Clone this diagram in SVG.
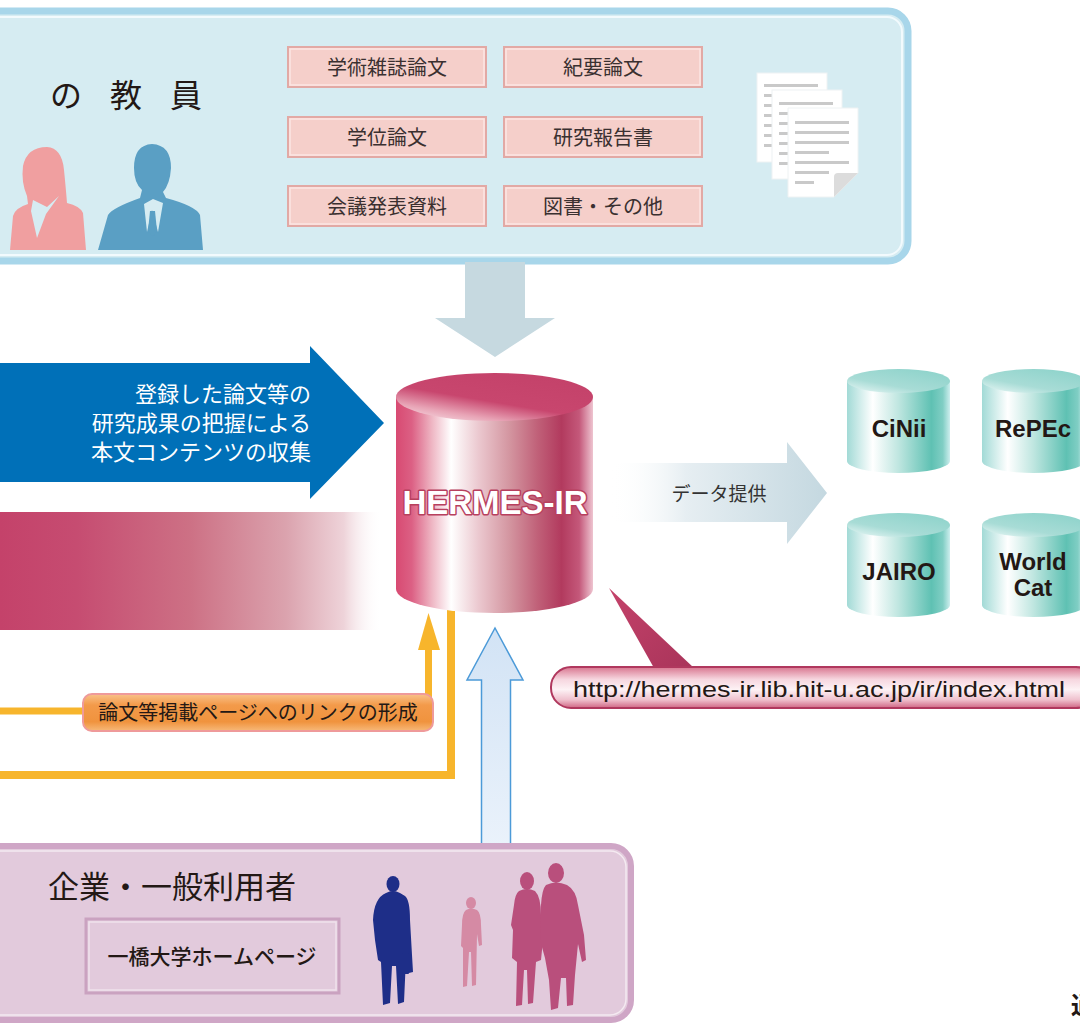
<svg xmlns="http://www.w3.org/2000/svg" width="1080" height="1023" viewBox="0 0 1080 1023">
  <defs>
    <style>
      .jp { font-family: "Noto Sans CJK JP", "Noto Sans", sans-serif; fill: #231815; }
      .doc-box rect.bg { fill: #f5cfca; stroke: #e2a9a5; stroke-width: 2; }
      .doc-box rect.hl { fill: none; stroke: #fbe6e3; stroke-width: 1.5; }
      .doc-box text { font-size: 20px; text-anchor: middle; fill: #3a3030; }
      .page { fill: #ffffff; stroke: #eef2f3; stroke-width: 1; }
      .pline { fill: #c9c9c9; }
      .dbname { font-family: "Liberation Sans", Arial, sans-serif; font-weight: bold; font-size: 24px; text-anchor: middle; fill: #231815; }
    </style>
    <linearGradient id="hermesBody" x1="0" y1="0" x2="1" y2="0">
      <stop offset="0" stop-color="#d84a72"/>
      <stop offset="0.08" stop-color="#dc6084"/>
      <stop offset="0.18" stop-color="#eeb4c2"/>
      <stop offset="0.28" stop-color="#ffffff"/>
      <stop offset="0.42" stop-color="#ebc8cf"/>
      <stop offset="0.58" stop-color="#d3949f"/>
      <stop offset="0.72" stop-color="#c06078"/>
      <stop offset="0.84" stop-color="#b23a5e"/>
      <stop offset="0.93" stop-color="#c4587a"/>
      <stop offset="1" stop-color="#eec4d0"/>
    </linearGradient>
    <linearGradient id="hermesTop" x1="0" y1="1" x2="0.7" y2="0">
      <stop offset="0" stop-color="#fbeef1"/>
      <stop offset="0.25" stop-color="#e8a4b6"/>
      <stop offset="0.5" stop-color="#c8466e"/>
      <stop offset="1" stop-color="#c4426a"/>
    </linearGradient>
    <linearGradient id="tealBody" x1="0" y1="0" x2="1" y2="0">
      <stop offset="0" stop-color="#a2dad6"/>
      <stop offset="0.25" stop-color="#ffffff"/>
      <stop offset="0.5" stop-color="#bfe6e0"/>
      <stop offset="0.82" stop-color="#5fc1b3"/>
      <stop offset="0.93" stop-color="#80cec4"/>
      <stop offset="1" stop-color="#cdeeee"/>
    </linearGradient>
    <linearGradient id="tealTop" x1="0" y1="1" x2="0.8" y2="0">
      <stop offset="0" stop-color="#eef9f8"/>
      <stop offset="0.4" stop-color="#a8dcd6"/>
      <stop offset="1" stop-color="#8ed3cb"/>
    </linearGradient>
    <linearGradient id="pinkBand" x1="0" y1="0" x2="1" y2="0">
      <stop offset="0" stop-color="#c4426a"/>
      <stop offset="0.2" stop-color="#c64c71"/>
      <stop offset="0.5" stop-color="#cd7185"/>
      <stop offset="0.75" stop-color="#dba3ae"/>
      <stop offset="0.9" stop-color="#eed3d9"/>
      <stop offset="1" stop-color="#ffffff" stop-opacity="0"/>
    </linearGradient>
    <linearGradient id="dataArrow" x1="0" y1="0" x2="1" y2="0">
      <stop offset="0" stop-color="#ffffff" stop-opacity="0"/>
      <stop offset="0.35" stop-color="#e6eef2"/>
      <stop offset="1" stop-color="#c4d8e0"/>
    </linearGradient>
    <linearGradient id="upArrow" x1="0" y1="0" x2="0" y2="1">
      <stop offset="0" stop-color="#d2e3f5"/>
      <stop offset="1" stop-color="#eaf2fb"/>
    </linearGradient>
    <linearGradient id="orangeLabel" x1="0" y1="0" x2="0" y2="1">
      <stop offset="0" stop-color="#f9c28a"/>
      <stop offset="0.3" stop-color="#f39a4a"/>
      <stop offset="0.75" stop-color="#f0933e"/>
      <stop offset="1" stop-color="#f7b979"/>
    </linearGradient>
    <linearGradient id="pill" x1="0" y1="0" x2="0" y2="1">
      <stop offset="0" stop-color="#d8758f"/>
      <stop offset="0.3" stop-color="#f6d6df"/>
      <stop offset="0.55" stop-color="#fdf2f5"/>
      <stop offset="0.8" stop-color="#efc0cd"/>
      <stop offset="1" stop-color="#cf6684"/>
    </linearGradient>
    <linearGradient id="pointer" x1="0" y1="0" x2="1" y2="1">
      <stop offset="0" stop-color="#c4426a"/>
      <stop offset="1" stop-color="#a9345a"/>
    </linearGradient>
  </defs>

  <rect width="1080" height="1023" fill="#ffffff"/>

  <!-- faculty panel -->
  <g id="faculty">
    <rect x="-20" y="11" width="928" height="250" rx="20" fill="#d6ecf2" stroke="#a8d6ea" stroke-width="7"/>
    <rect x="-16" y="17" width="918" height="238" rx="15" fill="none" stroke="#f2fafd" stroke-width="2"/>
    <text class="jp" x="50" y="107" font-size="32">の</text>
    <text class="jp" x="110" y="107" font-size="32">教</text>
    <text class="jp" x="170" y="107" font-size="32">員</text>
    <!-- woman -->
    <path d="M10 250 L13 216 Q15 208 28 204 L27 196 Q21 182 23 166 Q27 147 47 147 Q62 148 64 170 Q66 190 67 203 Q80 206 83 213 L86 250 Z" fill="#f09fa0"/>
    <path d="M33 200 L31 211 L37 238 L46 214 L59 196 L47 207 Z" fill="#d6ecf2"/>
    <!-- man -->
    <path d="M98 250 L108 215 Q112 208 140 198 L142 190 Q134 183 134 168 Q134 145 152 144 Q171 145 171 168 Q170 184 163 192 L166 198 Q196 206 200 215 L203 250 Z" fill="#5a9fc4"/>
    <path d="M144 204 L147 232 L152 210 L158 232 L163 203 L153 199 Z" fill="#d6ecf2"/>
    <path d="M150 211 L148 231 L153 237 L157 231 L155 211 Z" fill="#5a9fc4"/>
  </g>

  <g id="doc-types">
    <g class="doc-box" id="doc-journal"><rect class="bg" x="288" y="47" width="198" height="40"/><rect class="hl" x="290" y="49" width="194" height="36"/><text class="jp" x="387" y="75">学術雑誌論文</text></g>
    <g class="doc-box" id="doc-bulletin"><rect class="bg" x="504" y="47" width="198" height="40"/><rect class="hl" x="506" y="49" width="194" height="36"/><text class="jp" x="603" y="75">紀要論文</text></g>
    <g class="doc-box" id="doc-thesis"><rect class="bg" x="288" y="117" width="198" height="40"/><rect class="hl" x="290" y="119" width="194" height="36"/><text class="jp" x="387" y="145">学位論文</text></g>
    <g class="doc-box" id="doc-report"><rect class="bg" x="504" y="117" width="198" height="40"/><rect class="hl" x="506" y="119" width="194" height="36"/><text class="jp" x="603" y="145">研究報告書</text></g>
    <g class="doc-box" id="doc-conference"><rect class="bg" x="288" y="186" width="198" height="40"/><rect class="hl" x="290" y="188" width="194" height="36"/><text class="jp" x="387" y="214">会議発表資料</text></g>
    <g class="doc-box" id="doc-books"><rect class="bg" x="504" y="186" width="198" height="40"/><rect class="hl" x="506" y="188" width="194" height="36"/><text class="jp" x="603" y="214">図書・その他</text></g>
  </g>

  <!-- stacked document icon -->
  <g id="doc-icon">
    <rect class="page" x="757" y="73" width="70" height="89"/>
    <rect class="pline" x="764" y="84" width="54" height="3"/>
    <rect class="pline" x="764" y="94" width="10" height="3"/>
    <rect class="pline" x="764" y="104" width="10" height="3"/>
    <rect class="pline" x="764" y="114" width="10" height="3"/>
    <rect class="pline" x="764" y="124" width="10" height="3"/>
    <rect class="pline" x="764" y="134" width="10" height="3"/>
    <rect class="pline" x="764" y="144" width="10" height="3"/>
    <rect class="page" x="772" y="90" width="70" height="89"/>
    <rect class="pline" x="779" y="102" width="54" height="3"/>
    <rect class="pline" x="779" y="112" width="10" height="3"/>
    <rect class="pline" x="779" y="122" width="10" height="3"/>
    <rect class="pline" x="779" y="132" width="10" height="3"/>
    <rect class="pline" x="779" y="142" width="10" height="3"/>
    <rect class="pline" x="779" y="152" width="10" height="3"/>
    <rect class="pline" x="779" y="162" width="10" height="3"/>
    <path class="page" d="M788 108 H858 V173 L834 197 H788 Z"/>
    <path d="M858 173 L834 197 L834 177 Q834 173 838 173 Z" fill="#dcdcdc"/>
    <rect class="pline" x="795" y="121" width="54" height="3"/>
    <rect class="pline" x="795" y="131" width="54" height="3"/>
    <rect class="pline" x="795" y="141" width="54" height="3"/>
    <rect class="pline" x="795" y="151" width="34" height="3"/>
    <rect class="pline" x="795" y="161" width="54" height="3"/>
    <rect class="pline" x="795" y="171" width="34" height="3"/>
    <rect class="pline" x="795" y="181" width="19" height="3"/>
  </g>

  <!-- connectors -->
  <g id="connectors">
    <path id="deposit-arrow" d="M465 262 H525 V318 H555 L495 357 L435 318 H465 Z" fill="#c6d9e0"/>
    <path id="harvest-arrow" d="M-10 363 H310 V346 L384 423 L310 499 V482 H-10 Z" fill="#0070b8"/>
    <rect id="publish-band" x="0" y="512" width="382" height="118" fill="url(#pinkBand)"/>
    <!-- link paths -->
    <path d="M-10 711 H90" fill="none" stroke="#f7b52c" stroke-width="7"/>
    <path d="M428.5 700 V648" fill="none" stroke="#f7b52c" stroke-width="7"/>
    <path d="M418 650 L428.5 613 L440 650 Z" fill="#f7b52c"/>
    <path d="M-10 775 H451 V605" fill="none" stroke="#f7b52c" stroke-width="8"/>
    <path id="access-arrow" d="M495 628 L523 680 L510.5 680 L510.5 846 L481.5 846 L481.5 680 L467 680 Z" fill="url(#upArrow)" stroke="#4c9ad8" stroke-width="1.5"/>
    <path id="data-arrow" d="M610 463 H787 V442 L827 493 L787 544 V522 H610 Z" fill="url(#dataArrow)"/>
    <path id="url-pointer" d="M609 588 L654 668 L694 668 Z" fill="url(#pointer)"/>
  </g>

  <g id="harvest-label">
    <text class="jp" x="311" y="402" font-size="22" text-anchor="end" style="fill:#ffffff">登録した論文等の</text>
    <text class="jp" x="311" y="431" font-size="22" text-anchor="end" style="fill:#ffffff">研究成果の把握による</text>
    <text class="jp" x="311" y="460" font-size="22" text-anchor="end" style="fill:#ffffff">本文コンテンツの収集</text>
  </g>

  <g id="data-label">
    <text class="jp" x="719" y="501" font-size="19" text-anchor="middle" style="fill:#333">データ提供</text>
  </g>

  <g id="link-label">
    <rect x="83" y="694" width="350" height="37" rx="9" fill="url(#orangeLabel)" stroke="#ef9a9a" stroke-width="2"/>
    <text class="jp" x="258" y="720" font-size="20" text-anchor="middle">論文等掲載ページへのリンクの形成</text>
  </g>

  <!-- repository -->
  <g id="hermes-ir">
    <path d="M396 397 V589 A98.5 24 0 0 0 593 589 V397 Z" fill="url(#hermesBody)"/>
    <ellipse cx="494.5" cy="397" rx="98.5" ry="24" fill="url(#hermesTop)"/>
    <text x="495" y="514" font-family="'Liberation Sans', Arial, sans-serif" font-weight="bold" font-size="33" text-anchor="middle" fill="#ffffff" stroke="#b8405e" stroke-width="3" paint-order="stroke" stroke-linejoin="round">HERMES-IR</text>
  </g>

  <!-- external services -->
  <g id="cinii">
    <path d="M847 381 V461 A51.5 12 0 0 0 950 461 V381 Z" fill="url(#tealBody)"/>
    <ellipse cx="898.5" cy="381" rx="51.5" ry="12" fill="url(#tealTop)"/>
    <text class="dbname" x="899" y="437">CiNii</text>
  </g>
  <g id="repec">
    <path d="M982 381 V461 A51.5 12 0 0 0 1085 461 V381 Z" fill="url(#tealBody)"/>
    <ellipse cx="1033.5" cy="381" rx="51.5" ry="12" fill="url(#tealTop)"/>
    <text class="dbname" x="1033" y="437">RePEc</text>
  </g>
  <g id="jairo">
    <path d="M847 525 V605 A51.5 12 0 0 0 950 605 V525 Z" fill="url(#tealBody)"/>
    <ellipse cx="898.5" cy="525" rx="51.5" ry="12" fill="url(#tealTop)"/>
    <text class="dbname" x="899" y="580">JAIRO</text>
  </g>
  <g id="worldcat">
    <path d="M982 525 V605 A51.5 12 0 0 0 1085 605 V525 Z" fill="url(#tealBody)"/>
    <ellipse cx="1033.5" cy="525" rx="51.5" ry="12" fill="url(#tealTop)"/>
    <text class="dbname" x="1033" y="570">World</text>
    <text class="dbname" x="1033" y="596">Cat</text>
  </g>

  <g id="url-callout">
    <rect x="551" y="667" width="545" height="41" rx="20" fill="url(#pill)" stroke="#b0385e" stroke-width="2"/>
    <text x="573" y="697" font-family="'Liberation Sans', Arial, sans-serif" font-size="22" fill="#231815" textLength="492" lengthAdjust="spacingAndGlyphs">http://hermes-ir.lib.hit-u.ac.jp/ir/index.html</text>
  </g>

  <!-- public users panel -->
  <g id="public-users">
    <rect x="-20" y="846" width="651" height="174" rx="20" fill="#e2cadc" stroke="#cfa6c6" stroke-width="6"/>
    <rect x="-16" y="851" width="642" height="164" rx="16" fill="none" stroke="#f4eaf1" stroke-width="1.5"/>
    <text class="jp" x="48" y="898" font-size="31">企業・一般利用者</text>
    <g id="homepage">
      <rect x="86" y="919" width="253" height="74" fill="#e2cadc" stroke="#caa2c0" stroke-width="3"/>
      <rect x="89" y="922" width="247" height="68" fill="none" stroke="#efe2ec" stroke-width="1.5"/>
      <text class="jp" x="212" y="964" font-size="21" text-anchor="middle" font-weight="500">一橋大学ホームページ</text>
    </g>
    <!-- walking figures -->
    <ellipse cx="393" cy="884" rx="6.5" ry="8" fill="#1e2e88"/>
    <path d="M386 893 Q393 889 400 893 L405 896 Q410 900 410 920 L412 955 L413 972 L409 973 L406 958 L404 1002 L398 1004 L396 966 L392 966 L390 1003 L383 1005 L381 962 L378 960 L375 940 L373 920 Q374 898 386 893 Z" fill="#1e2e88"/>
    <rect x="402" y="953" width="7" height="21" rx="1" fill="#1e2e88"/>
    <ellipse cx="471" cy="903" rx="5" ry="6" fill="#d58aa4"/>
    <path d="M466 910 Q471 907 477 910 Q481 913 481 925 L482 945 L479 946 L477 934 L476 985 L472 986 L471 952 L469 952 L467 986 L463 987 L463 948 L461 946 L462 925 Q462 913 466 910 Z" fill="#d58aa4"/>
    <ellipse cx="527" cy="881" rx="7" ry="9" fill="#b94f7c"/>
    <path d="M519 891 Q527 887 535 891 Q541 897 541 915 L543 940 L541 960 L536 962 L533 1003 L528 1004 L527 970 L524 970 L522 1005 L516 1006 L517 962 L512 958 L513 930 L511 925 L514 905 Q515 894 519 891 Z" fill="#b94f7c"/>
    <ellipse cx="556" cy="873" rx="8" ry="10" fill="#b94f7c"/>
    <path d="M546 885 Q556 880 567 885 Q576 890 578 905 L584 935 L586 960 L582 962 L578 944 L575 975 L573 1005 L567 1006 L566 978 L561 978 L558 1008 L551 1010 L549 980 L545 958 L540 940 L541 905 Q542 889 546 885 Z" fill="#b94f7c"/>
  </g>

  <!-- heading of the next section, running off the right edge -->
  <text class="jp" x="1071" y="1014" font-size="24" font-weight="bold">通</text>
</svg>
